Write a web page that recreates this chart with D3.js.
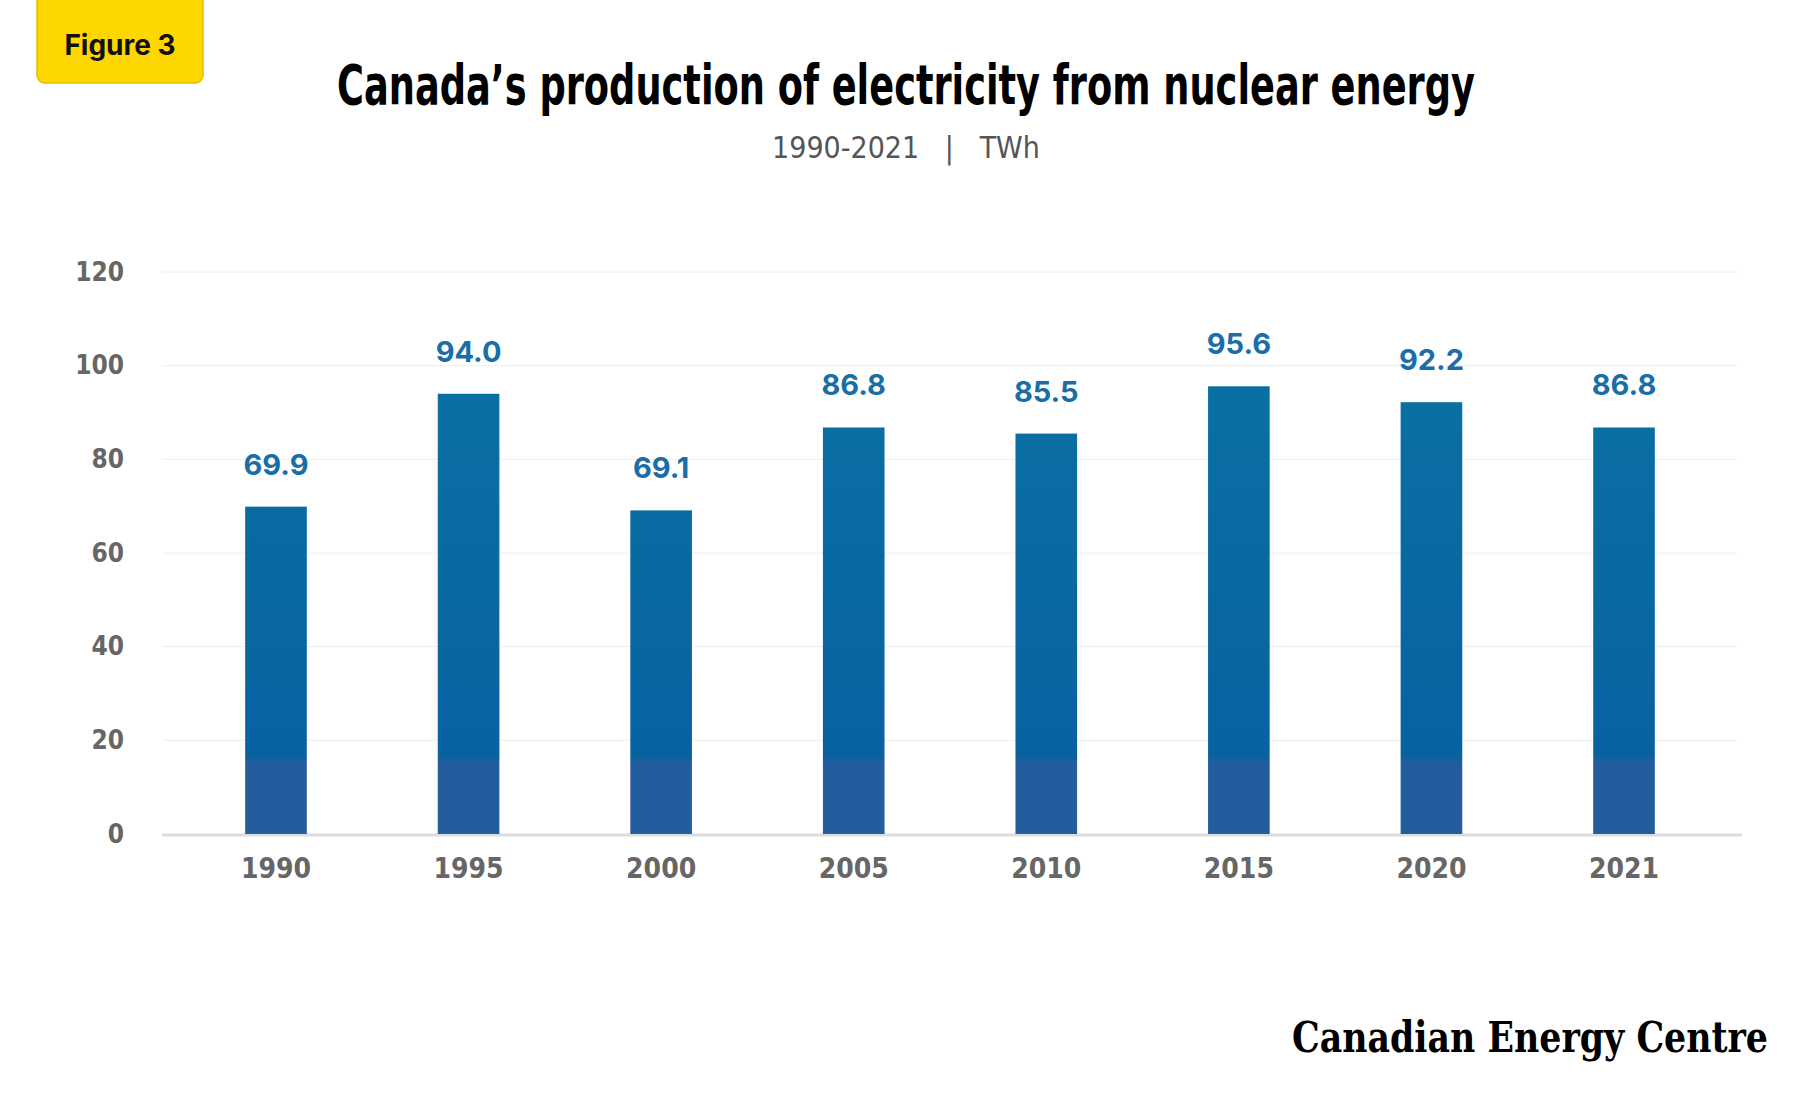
<!DOCTYPE html>
<html><head><meta charset="utf-8">
<script src="https://cdn.jsdelivr.net/npm/d3@7"></script>
<style>body{margin:0;background:#fff}</style>
</head><body><svg id="c" width="1800" height="1100"></svg>
<script>
const years = ["1990","1995","2000","2005","2010","2015","2020","2021"];
const values = [69.9,94.0,69.1,86.8,85.5,95.6,92.2,86.8];
const yTicks = [0,20,40,60,80,100,120];

const svg = d3.select("#c");
const x = d3.scaleBand().domain(years).range([179.7,1720.3]).paddingInner(0.68).paddingOuter(0.34);
const y = d3.scaleLinear().domain([0,120]).range([834,272]);

const defs = svg.append("defs");
const g = defs.append("linearGradient").attr("id","bg").attr("gradientUnits","userSpaceOnUse")
  .attr("x1",0).attr("y1",y(120)).attr("x2",0).attr("y2",y(0));
g.append("stop").attr("offset","0%").attr("stop-color","#0a74a4");
g.append("stop").attr("offset","86%").attr("stop-color","#0862a0");
g.append("stop").attr("offset","87.5%").attr("stop-color","#245d9e");
g.append("stop").attr("offset","100%").attr("stop-color","#245d9e");

svg.append("rect").attr("x",37).attr("y",-10).attr("width",166).attr("height",93).attr("rx",8)
  .attr("fill","#ffd700").attr("stroke","#e2bd00").attr("stroke-width",1.5);
svg.append("text").attr("x",120).attr("y",55).attr("text-anchor","middle")
  .attr("font-family","Inter, Roboto, sans-serif").attr("font-weight",700).attr("font-size",28).attr("fill","#111").text("Figure 3");

const cond = "'Liberation Sans Narrow', 'DejaVu Sans Condensed', Roboto, sans-serif";
svg.append("text").attr("x",906).attr("y",104).attr("text-anchor","middle")
  .attr("font-family",cond).attr("font-weight",700)
  .attr("font-size",56).attr("textLength",1138).attr("lengthAdjust","spacingAndGlyphs").attr("fill","#000")
  .text("Canada’s production of electricity from nuclear energy");
svg.append("text").attr("x",906).attr("y",158).attr("text-anchor","middle")
  .attr("font-family",cond).attr("font-weight",300)
  .attr("font-size",30).attr("fill","#555").attr("xml:space","preserve").text("1990-2021   |   TWh");

svg.append("g").selectAll("line").data(yTicks.filter(d=>d>0)).join("line")
  .attr("x1",162).attr("x2",1737).attr("y1",d=>y(d)).attr("y2",d=>y(d)).attr("stroke","#eeeeee").attr("stroke-width",1);
svg.append("line").attr("x1",162).attr("x2",1742).attr("y1",y(0)+1).attr("y2",y(0)+1).attr("stroke","#dcdcdc").attr("stroke-width",3);

const ya = svg.append("g").attr("transform","translate(124,0)").call(d3.axisLeft(y).tickValues(yTicks).tickSize(0).tickPadding(0));
ya.select(".domain").remove();
ya.selectAll("text").attr("font-family",cond).attr("font-weight",700).attr("font-size",26).attr("fill","#666");

const xa = svg.append("g").attr("transform","translate(0,"+(y(0)+24)+")").call(d3.axisBottom(x).tickSize(0).tickPadding(0));
xa.select(".domain").remove();
xa.selectAll("text").attr("dy","0.71em").attr("font-family",cond).attr("font-weight",700).attr("font-size",28).attr("fill","#666");

svg.append("g").selectAll("rect").data(values).join("rect")
  .attr("x",(d,i)=>x(years[i])).attr("width",x.bandwidth())
  .attr("y",d=>y(d)).attr("height",d=>y(0)-y(d)).attr("fill","url(#bg)");

svg.append("g").selectAll("text").data(values).join("text")
  .attr("x",(d,i)=>x(years[i])+x.bandwidth()/2).attr("y",d=>y(d)-32)
  .attr("text-anchor","middle").attr("font-family","Inter, Roboto, sans-serif").attr("font-weight",700)
  .attr("font-size",29).attr("fill","#1a6ea8").text(d=>d.toFixed(1));

svg.append("text").attr("x",1768).attr("y",1052).attr("text-anchor","end")
  .attr("font-family","'DejaVu Serif', 'Liberation Serif', serif").attr("font-weight",700)
  .attr("font-size",42).attr("textLength",476).attr("lengthAdjust","spacingAndGlyphs").attr("fill","#000")
  .text("Canadian Energy Centre");
</script></body></html>
